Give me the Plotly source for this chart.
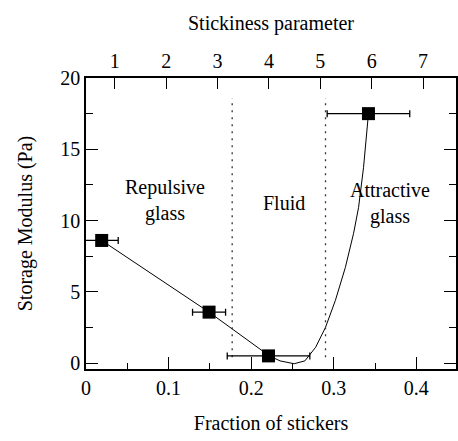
import plotly.graph_objects as go

# data
frac = [0.019, 0.149, 0.221, 0.342]
modulus = [8.6, 3.57, 0.5, 17.5]
frac_err = [0.02, 0.02, 0.05, 0.05]

fit_x = [0.019, 0.149, 0.222, 0.235, 0.252, 0.265, 0.278, 0.290, 0.302, 0.314, 0.324, 0.330, 0.336, 0.342]
fit_y = [8.6, 3.57, 0.5, 0.15, -0.05, 0.15, 1.1, 2.5, 4.4, 6.7, 9.1, 10.9, 13.7, 17.5]

boundaries = [0.177, 0.290]
boundary_y = [0.4, 18.6]

regions = ["Repulsive<br>glass", "Fluid", "Attractive<br>glass"]
region_x = [0.096, 0.240, 0.368]
region_y = [11.4, 11.2, 11.2]

stick_ticks = [1, 2, 3, 4, 5, 6, 7]

FONT = "Liberation Serif"
FS = 20

fig = go.Figure()

fig.add_trace(go.Scatter(x=fit_x, y=fit_y, mode="lines",
                         line=dict(color="black", width=1), showlegend=False))

for bx in boundaries:
    fig.add_trace(go.Scatter(x=[bx, bx], y=boundary_y, mode="lines",
                             line=dict(color="#333", width=1.3, dash="2px,5px"),
                             showlegend=False))

fig.add_trace(go.Scatter(
    x=frac, y=modulus, mode="markers",
    marker=dict(symbol="square", size=13, color="black"),
    error_x=dict(type="data", array=frac_err, color="black", thickness=1.3, width=3.5),
    showlegend=False))

# invisible trace carrying the top (stickiness) axis
fig.add_trace(go.Scatter(x=stick_ticks, y=[5] * len(stick_ticks), xaxis="x2",
                         mode="markers", marker=dict(opacity=0), showlegend=False,
                         hoverinfo="skip"))

for t, xx, yy in zip(regions, region_x, region_y):
    fig.add_annotation(x=xx, y=yy, text=t, showarrow=False,
                       font=dict(family=FONT, size=FS, color="black"))

tick_font = dict(family=FONT, size=FS, color="black")
title_font = dict(family=FONT, size=FS, color="black")

fig.update_layout(
    width=458, height=441,
    margin=dict(l=86, r=0, t=78, b=72),
    paper_bgcolor="white", plot_bgcolor="white",
    font=dict(family=FONT, size=FS, color="black"),
    xaxis=dict(range=[0, 0.448], tickvals=[0, 0.1, 0.2, 0.3, 0.4],
               ticktext=["0", "0.1", "0.2", "0.3", "0.4"], ticklen=12,
               showgrid=False, zeroline=False, showline=True, linecolor="black",
               linewidth=1.5, tickcolor="black", tickwidth=1.2, ticks="inside",
               tickfont=tick_font,
               minor=dict(ticks="inside", ticklen=6, dtick=0.05, tickcolor="black"),
               title=dict(text="Fraction of stickers", font=title_font, standoff=18)),
    xaxis2=dict(overlaying="x", side="top", range=[0.439, 7.64], tickvals=stick_ticks,
                ticklen=11,
                showgrid=False, zeroline=False, showline=True, linecolor="black",
                linewidth=1.5, tickcolor="black", tickwidth=1.2, ticks="inside",
                tickfont=tick_font,
                title=dict(text="Stickiness parameter", font=title_font, standoff=14)),
    yaxis=dict(range=[-0.42, 20], tickvals=[0, 5, 10, 15, 20], ticklen=12, mirror="ticks",
               showgrid=False, zeroline=False, showline=True, linecolor="black",
               linewidth=1.5, tickcolor="black", tickwidth=1.2, ticks="inside",
               tickfont=tick_font,
               minor=dict(ticks="inside", ticklen=7, dtick=2.5, tickcolor="black"),
               title=dict(text="Storage Modulus (Pa)", font=title_font, standoff=22)),
)

fig.write_html("out.html")
